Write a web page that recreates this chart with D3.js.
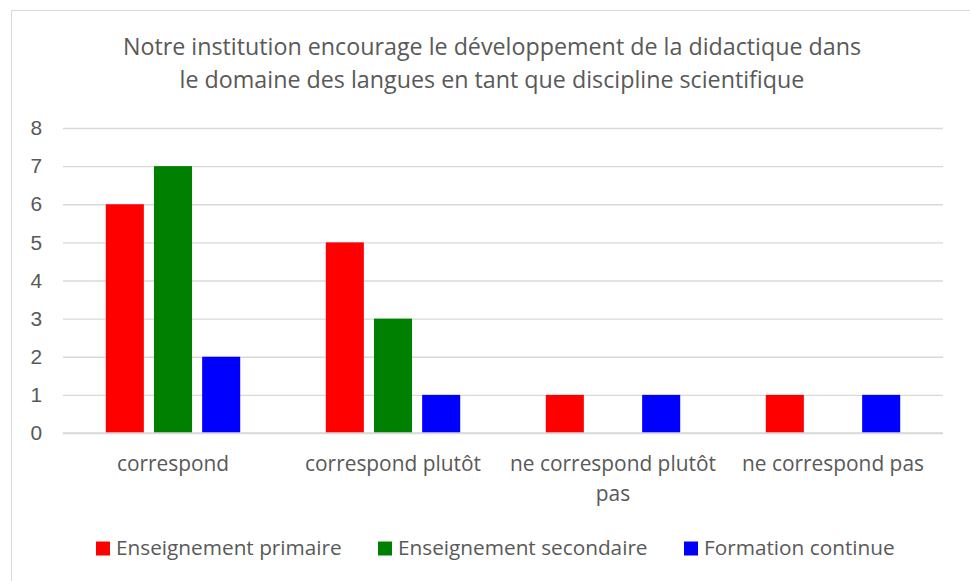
<!DOCTYPE html>
<html>
<head>
<meta charset="utf-8">
<script src="https://cdn.jsdelivr.net/npm/d3@7"></script>
<style>
  html, body { margin: 0; padding: 0; background: #ffffff; }
  svg { display: block; font-family: "Open Sans", "Noto Sans", sans-serif; }
</style>
</head>
<body>
<svg id="chart" width="970" height="581"></svg>
<script>
const titleLines = ["Notre institution encourage le développement de la didactique dans",
                    "le domaine des langues en tant que discipline scientifique"];
const categories = ["correspond", "correspond plutôt", "ne correspond plutôt pas", "ne correspond pas"];
const categoryLines = [["correspond"], ["correspond plutôt"], ["ne correspond plutôt", "pas"], ["ne correspond pas"]];
const seriesNames = ["Enseignement primaire", "Enseignement secondaire", "Formation continue"];
const seriesColors = ["#FF0000", "#008000", "#0000FF"];
const primaire   = [6, 5, 1, 1];
const secondaire = [7, 3, 0, 0];
const continue_  = [2, 1, 1, 1];
const yTicks = [0, 1, 2, 3, 4, 5, 6, 7, 8];

const seriesValues = [primaire, secondaire, continue_];
const textColor = "#595959";
const gridColor = "#d9d9d9";

const svg = d3.select("#chart");

function fitSize(sel, refNode, target) {
  const base = 20;
  sel.style("font-size", base + "px");
  const w = refNode.getComputedTextLength();
  const size = base * target / w;
  sel.style("font-size", size + "px");
  return size;
}

// chart border
svg.append("rect")
  .attr("x", 11.5).attr("y", 10.5)
  .attr("width", 970).attr("height", 600)
  .attr("fill", "#ffffff").attr("stroke", gridColor).attr("stroke-width", 1);

const plot = { left: 63, right: 943, top: 128, bottom: 433 };

const x0 = d3.scaleBand().domain(categories).range([plot.left, plot.right]).paddingInner(0).paddingOuter(0);
const y = d3.scaleLinear().domain([0, 8]).range([plot.bottom, plot.top]);

const bandW = x0.bandwidth();
const barW = bandW * 0.173;
const barGap = bandW * 0.046;
const groupW = barW * 3 + barGap * 2;
const x1 = d3.scaleOrdinal().domain([0, 1, 2])
  .range([0, 1, 2].map(i => (bandW - groupW) / 2 + i * (barW + barGap)));

// title
const tt = svg.append("g").selectAll("text").data(titleLines).join("text")
  .attr("x", 492).attr("y", (d, i) => 55 + i * 33)
  .attr("text-anchor", "middle")
  .attr("fill", textColor)
  .text(d => d);
fitSize(tt, tt.nodes()[0], 739);

// gridlines + y ticks
const yAxis = d3.axisLeft(y).tickValues(yTicks).tickSize(-(plot.right - plot.left)).tickPadding(21).tickFormat(d3.format("d"));
const gy = svg.append("g").attr("transform", `translate(${plot.left},0)`).call(yAxis);
gy.select(".domain").remove();
gy.selectAll(".tick line").attr("stroke", gridColor).attr("stroke-width", 1.3);
const tickTexts = gy.selectAll(".tick text").attr("fill", textColor).attr("font-family", null);

// bars
const groups = svg.append("g").selectAll("g").data(categories).join("g")
  .attr("transform", d => `translate(${x0(d)},0)`);
groups.selectAll("rect")
  .data((d, ci) => seriesValues.map((vals, si) => ({ si, v: vals[ci] })).filter(o => o.v > 0))
  .join("rect")
  .attr("x", d => x1(d.si))
  .attr("width", barW)
  .attr("y", d => y(d.v))
  .attr("height", d => y(0) - y(d.v))
  .attr("fill", d => seriesColors[d.si]);

svg.append("line")
  .attr("x1", plot.left).attr("x2", plot.right)
  .attr("y1", y(0)).attr("y2", y(0))
  .attr("stroke", gridColor).attr("stroke-width", 1.3);

// category labels
const cl = svg.append("g").selectAll("text").data(categories).join("text")
  .attr("x", d => x0(d) + bandW / 2)
  .attr("y", 471)
  .attr("text-anchor", "middle")
  .attr("fill", textColor);
cl.each(function (d, i) {
  d3.select(this).selectAll("tspan").data(categoryLines[i]).join("tspan")
    .attr("x", x0(d) + bandW / 2)
    .attr("dy", (t, j) => j === 0 ? 0 : 30)
    .text(t => t);
});
const labelSize = fitSize(cl, cl.nodes()[1], 176);
tickTexts.style("font-size", labelSize + "px");

// legend
const legendX = [96, 378, 684];
const lg = svg.append("g").selectAll("g").data(seriesNames).join("g")
  .attr("transform", (d, i) => `translate(${legendX[i]},541.5)`);
lg.append("rect").attr("width", 14).attr("height", 14).attr("fill", (d, i) => seriesColors[i]);
const lt = lg.append("text").attr("x", 20).attr("y", 13.5)
  .attr("fill", textColor).text(d => d);
fitSize(lt, lt.nodes()[0], 226);
</script>
</body>
</html>
